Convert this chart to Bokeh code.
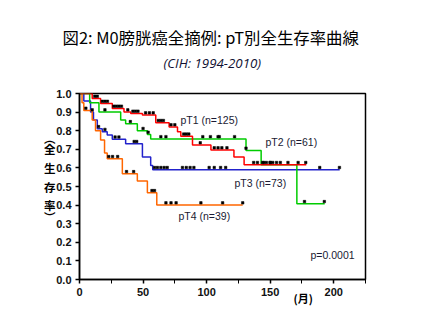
import numpy as np
from bokeh.plotting import figure
from bokeh.models import Range1d, FixedTicker, Label, PrintfTickFormatter, Title, LinearAxis
from bokeh.embed import file_html
from bokeh.resources import INLINE

# ---- data ----
pt1_t = [0, 10.0, 16.6, 25.8, 35.0, 40.3, 49.5, 60.0, 70.5, 77.1, 79.7, 88.9, 103.4, 121.5, 129.5]
pt1_s = [1.0, 0.973, 0.946, 0.92, 0.90, 0.893, 0.884, 0.843, 0.82, 0.795, 0.77, 0.723, 0.696, 0.658, 0.617]
pt1_end = 178.4
pt1_cens = [5, 8, 12, 14, 18, 20, 22, 27, 29, 31, 33, 38, 42, 44, 46, 52, 55, 58, 62, 64, 66, 72, 75,
            82, 84, 86, 95, 106, 109, 112, 116, 137, 140, 145, 147, 150, 152, 155, 158, 164, 172, 178]

pt2_t = [0, 8.0, 15.3, 32.4, 36.3, 45.5, 53.4, 56.0, 131.0, 142.9, 171.0]
pt2_s = [1.0, 0.95, 0.90, 0.857, 0.837, 0.80, 0.78, 0.756, 0.694, 0.617, 0.407]
pt2_end = 192.9
pt2_cens = [6, 20, 40, 50, 54, 64, 68, 97, 103, 109, 110, 122, 131, 144, 150, 177, 192.6]

pt3_t = [0, 3.4, 8.7, 11.0, 14.0, 17.9, 21.8, 25.8, 36.3, 49.5, 56.0, 57.6]
pt3_s = [1.0, 0.96, 0.90, 0.857, 0.81, 0.795, 0.777, 0.754, 0.73, 0.658, 0.613, 0.59]
pt3_end = 204.7
pt3_cens = [10, 15, 20, 28, 31, 43, 45, 59, 61.3, 64, 66.6, 69, 81, 84, 87, 90, 102, 106, 111, 115, 189, 204.5]

pt4_t = [0, 2.0, 3.4, 10.0, 12.6, 16.6, 19.7, 21.8, 33.7, 45.5, 53.4, 60.8]
pt4_s = [1.0, 0.95, 0.909, 0.857, 0.80, 0.75, 0.68, 0.649, 0.568, 0.529, 0.466, 0.40]
pt4_end = 128.4
pt4_cens = [5, 23, 26, 30, 37, 42.6, 57, 59, 68, 72, 76, 95.5, 112.6, 128.4]

series_names = ["pT1 (n=125)", "pT2 (n=61)", "pT3 (n=73)", "pT4 (n=39)"]
x_ticks = [0, 50, 100, 150, 200]
x_minor = [25, 75, 125, 175, 225]
y_ticks = [0.0, 0.1, 0.2, 0.3, 0.4, 0.5, 0.6, 0.7, 0.8, 0.9, 1.0]
y_label_chars = ["︵", "全", "生", "存", "率", "︶"]
y_label_pos = [0.76, 0.7, 0.6, 0.5, 0.4, 0.335]
x_label_text = "(月)"
x_label_pos = 176.0
title_text = "図2: M0膀胱癌全摘例: pT別全生存率曲線"
subtitle_text = "(CIH: 1994-2010)"
p_value_text = "p=0.0001"

# ---- figure ----
p = figure(width=430, height=330, output_backend="svg", toolbar_location=None,
           x_range=Range1d(0, 225), y_range=Range1d(0, 1),
           min_border_left=79, min_border_right=65, min_border_top=93, min_border_bottom=51)
p.background_fill_color = "white"
p.border_fill_color = "white"
p.grid.visible = False
p.outline_line_color = "black"
p.outline_line_width = 1.5

xa = p.xaxis[0]
xa.ticker = FixedTicker(ticks=x_ticks, minor_ticks=x_minor)
ya = p.yaxis[0]
ya.ticker = FixedTicker(ticks=y_ticks, minor_ticks=[])
ya.formatter = PrintfTickFormatter(format="%.1f")
for ax in (xa, ya):
    ax.axis_line_width = 1.5
    ax.axis_line_color = "black"
    ax.major_tick_in = 0
    ax.major_tick_out = 4
    ax.minor_tick_in = 0
    ax.minor_tick_out = 4
    ax.major_tick_line_width = 1.5
    ax.major_tick_line_color = "black"
    ax.minor_tick_line_color = "black"
    ax.major_label_text_font = "Liberation Sans"
    ax.major_label_text_font_size = "11px"
    ax.major_label_text_color = "#111111"
    ax.major_label_text_font_style = "bold"
xa.major_label_standoff = 4
ya.major_label_standoff = 4

# vertical Japanese y label, one character per row, as an extra axis on the left
yl_axis = LinearAxis(ticker=FixedTicker(ticks=y_label_pos, minor_ticks=[]),
                     major_label_overrides={v: c for v, c in zip(y_label_pos, y_label_chars)})
yl_axis.axis_line_color = None
yl_axis.major_tick_line_color = None
yl_axis.minor_tick_line_color = None
yl_axis.major_tick_out = 0
yl_axis.major_tick_in = 0
yl_axis.major_label_standoff = -2
yl_axis.major_label_text_font = "Noto Sans CJK JP"
yl_axis.major_label_text_font_size = "11.5px"
yl_axis.major_label_text_font_style = "bold"
yl_axis.major_label_text_color = "black"
p.add_layout(yl_axis, "left")

# x label "(月)" as an extra axis below
xl_axis = LinearAxis(ticker=FixedTicker(ticks=[x_label_pos], minor_ticks=[]),
                     major_label_overrides={x_label_pos: x_label_text})
xl_axis.axis_line_color = None
xl_axis.major_tick_line_color = None
xl_axis.minor_tick_line_color = None
xl_axis.major_tick_out = 0
xl_axis.major_tick_in = 0
xl_axis.major_label_standoff = -9
xl_axis.major_label_text_font = "Noto Sans CJK JP"
xl_axis.major_label_text_font_size = "11px"
xl_axis.major_label_text_font_style = "bold"
xl_axis.major_label_text_color = "black"
p.add_layout(xl_axis, "below")

colors = ["#ff0000", "#00cc00", "#2222cc", "#ff6600"]
series = [(pt1_t, pt1_s, pt1_end, pt1_cens),
          (pt2_t, pt2_s, pt2_end, pt2_cens),
          (pt3_t, pt3_s, pt3_end, pt3_cens),
          (pt4_t, pt4_s, pt4_end, pt4_cens)]

for idx in [2, 3, 1, 0]:
    t, s, end, cens = series[idx]
    xs = list(t) + [end]
    ys = list(s) + [s[-1]]
    p.step(xs, ys, mode="after", line_color=colors[idx], line_width=1.5)

for idx in range(4):
    t, s, end, cens = series[idx]
    ta = np.array(t)
    sa = np.array(s)
    ci = np.searchsorted(ta, np.array(cens), side="right") - 1
    cy = sa[ci] + 0.012
    p.scatter(cens, cy, marker="square", size=2.5, fill_color="black", line_color="black", line_width=0.5)

def px2x(px):
    return (px - 79) * 225.0 / 286.0

def py2y(py):
    return (279 - py) / 186.0

txt_col = "#1a1a33"
label_pos = [(180, 119), (265, 141), (234, 182), (178, 215)]
for name, (lx, ly) in zip(series_names, label_pos):
    p.add_layout(Label(x=px2x(lx), y=py2y(ly), text=name, text_font="Liberation Sans",
                       text_font_size="10.5px", text_color=txt_col, text_baseline="middle",
                       text_align="left"))

p.add_layout(Label(x=px2x(310), y=py2y(254), text=p_value_text, text_font="Liberation Sans",
                   text_font_size="10.5px", text_color=txt_col, text_baseline="middle"))

# titles
sub = Title(text=subtitle_text, text_font="Open Sans", text_font_size="13.3px",
            text_font_style="italic", text_color="#111133", align="left", offset=84, standoff=43)
p.add_layout(sub, "above")
main = Title(text=title_text, text_font="Noto Sans CJK JP", text_font_size="16.4px",
             text_font_style="normal", text_color="black", align="left", offset=-17, standoff=-36)
p.add_layout(main, "above")

open("out.html", "w").write(file_html(p, INLINE))
